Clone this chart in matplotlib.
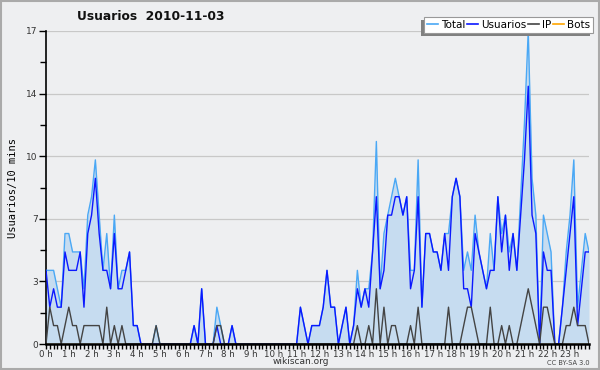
import numpy as np
import matplotlib
matplotlib.use('Agg')
import matplotlib.pyplot as plt
from matplotlib.patches import Rectangle
from matplotlib.lines import Line2D

# 10-minute slots for one day (144 points)
usuarios = [4, 2, 3, 2, 2, 5, 4, 4, 4, 5, 2, 6,
            7, 9, 6, 4, 4, 3, 6, 3, 3, 4, 5, 1,
            1, 0, 0, 0, 0, 0, 0, 0, 0, 0, 0, 0,
            0, 0, 0, 1, 0, 3, 0, 0, 0, 1, 0, 0,
            0, 1, 0, 0, 0, 0, 0, 0, 0, 0, 0, 0,
            0, 0, 0, 0, 0, 0, 0, 2, 1, 0, 1, 1,
            1, 2, 4, 2, 2, 0, 1, 2, 0, 1, 3, 2,
            3, 2, 5, 8, 3, 4, 7, 7, 8, 8, 7, 8,
            3, 4, 8, 2, 6, 6, 5, 5, 4, 6, 4, 8,
            9, 8, 3, 3, 2, 6, 5, 4, 3, 4, 4, 8,
            5, 7, 4, 6, 4, 7, 10, 14, 7, 6, 0, 5,
            4, 4, 0, 0, 2, 4, 6, 8, 1, 3, 5, 5]

ip = [0, 2, 1, 1, 0, 1, 2, 1, 1, 0, 1, 1,
      1, 1, 1, 0, 2, 0, 1, 0, 1, 0, 0, 0,
      0, 0, 0, 0, 0, 1, 0, 0, 0, 0, 0, 0,
      0, 0, 0, 0, 0, 0, 0, 0, 0, 1, 1, 0,
      0, 0, 0, 0, 0, 0, 0, 0, 0, 0, 0, 0,
      0, 0, 0, 0, 0, 0, 0, 0, 0, 0, 0, 0,
      0, 0, 0, 0, 0, 0, 0, 0, 0, 0, 1, 0,
      0, 1, 0, 3, 0, 2, 0, 1, 1, 0, 0, 0,
      1, 0, 2, 0, 0, 0, 0, 0, 0, 0, 2, 0,
      0, 0, 1, 2, 2, 1, 0, 0, 0, 2, 0, 0,
      1, 0, 1, 0, 0, 1, 2, 3, 2, 1, 0, 2,
      2, 1, 0, 0, 0, 1, 1, 2, 1, 1, 1, 0]

total = [4, 4, 4, 3, 2, 6, 6, 5, 5, 5, 3, 7,
         8, 10, 7, 4, 6, 3, 7, 3, 4, 4, 5, 1,
         1, 0, 0, 0, 0, 1, 0, 0, 0, 0, 0, 0,
         0, 0, 0, 1, 0, 3, 0, 0, 0, 2, 1, 0,
         0, 1, 0, 0, 0, 0, 0, 0, 0, 0, 0, 0,
         0, 0, 0, 0, 0, 0, 0, 2, 1, 0, 1, 1,
         1, 2, 4, 2, 2, 0, 1, 2, 0, 1, 4, 2,
         3, 3, 5, 11, 3, 6, 7, 8, 9, 8, 7, 8,
         4, 4, 10, 2, 6, 6, 5, 5, 4, 6, 6, 8,
         9, 8, 4, 5, 4, 7, 5, 4, 3, 6, 4, 8,
         6, 7, 5, 6, 4, 8, 12, 17, 9, 7, 0, 7,
         6, 5, 0, 0, 2, 5, 7, 10, 2, 4, 6, 5]

bots = [0] * 144

hour_labels = ['%d h' % h for h in range(24)]
ytick_vals = [0, 3.4, 6.8, 10.2, 13.6, 17]
ytick_labels = ['0', '3', '7', '10', '14', '17']

bg = '#eeeff1'
fig = plt.figure(figsize=(6, 3.7), dpi=100, facecolor=bg)
ax = fig.add_axes([46 / 600, 26 / 370, 543 / 600, 313 / 370], facecolor=bg)

x = np.arange(len(total))
ax.fill_between(x, total, 0, color='#c6dcf0', lw=0, zorder=1)
ax.plot(x, total, color='#4aa8f5', lw=1.0, zorder=3)
ax.plot(x, usuarios, color='#0b18ff', lw=1.0, zorder=4)
ax.plot(x, ip, color='#444444', lw=1.0, zorder=5)
ax.plot(x, bots, color='#ffa500', lw=1.0, zorder=2)

ax.set_xlim(0, 143)
ax.set_ylim(0, 17)
ax.set_yticks(ytick_vals)
ax.set_yticklabels(ytick_labels)
ax.set_yticks([1.7, 5.1, 8.5, 11.9, 15.3], minor=True)
ax.set_xticks(np.arange(0, 144, 6))
ax.set_xticklabels(hour_labels)
ax.set_xticks(np.arange(0, 144, 1), minor=True)

for v in ytick_vals[1:]:
    ax.axhline(v, color='#c8c8c8', lw=0.9, zorder=0)

for s in ['top', 'right']:
    ax.spines[s].set_visible(False)
ax.spines['left'].set_linewidth(1.2)
ax.spines['bottom'].set_linewidth(1.8)
ax.spines['bottom'].set_zorder(6)

ax.tick_params(axis='y', which='major', length=5, width=1, labelsize=6.5,
               labelcolor='#333333', pad=1)
ax.tick_params(axis='y', which='minor', length=4, width=1)
ax.tick_params(axis='x', which='both', length=3.5, width=1, labelsize=6.2,
               labelcolor='#333333', pad=0.5)

ax.set_ylabel('Usuarios/10 mins', family='DejaVu Sans Mono', fontsize=7.5,
              labelpad=6)

fig.text(151 / 600, 1 - 17 / 370, 'Usuarios  2010-11-03', ha='center',
         va='center', fontsize=8.8, fontweight='bold', color='#111111')
fig.text(301 / 600, 1 - 362 / 370, 'wikiscan.org', ha='center', va='center',
         fontsize=6.5, color='#333333')
fig.text(590 / 600, 1 - 363 / 370, 'CC BY-SA 3.0', ha='right', va='center',
         fontsize=4.8, color='#444444')

handles = [Line2D([], [], color=c, lw=1.2) for c in
           ['#4aa8f5', '#0b18ff', '#444444', '#ffa500']]
leg = fig.legend(handles, ['Total', 'Usuarios', 'IP', 'Bots'], ncol=4,
                 loc='upper right', bbox_to_anchor=(593 / 600, 1 - 17 / 370),
                 fontsize=7.5, frameon=True, fancybox=False, borderpad=0.3,
                 handlelength=1.0, handletextpad=0.3, columnspacing=0.2,
                 borderaxespad=0)
leg.get_frame().set_edgecolor('#999999')
leg.get_frame().set_linewidth(0.8)
leg.get_frame().set_facecolor('white')
leg.get_frame().set_alpha(1)
leg.set_zorder(10)

fig.canvas.draw()
bb = leg.get_window_extent().transformed(fig.transFigure.inverted())
fig.patches.append(Rectangle((bb.x0 - 3 / 600, bb.y0 - 3 / 370), bb.width,
                             bb.height, transform=fig.transFigure,
                             facecolor='#808080', edgecolor='none', zorder=9))

fig.patches.append(Rectangle((0.002, 0.003), 0.996, 0.994,
                             transform=fig.transFigure, fill=False,
                             edgecolor='#aaaaaa', lw=1.5, zorder=20))

fig.savefig('out.png', dpi=100, facecolor=bg)
